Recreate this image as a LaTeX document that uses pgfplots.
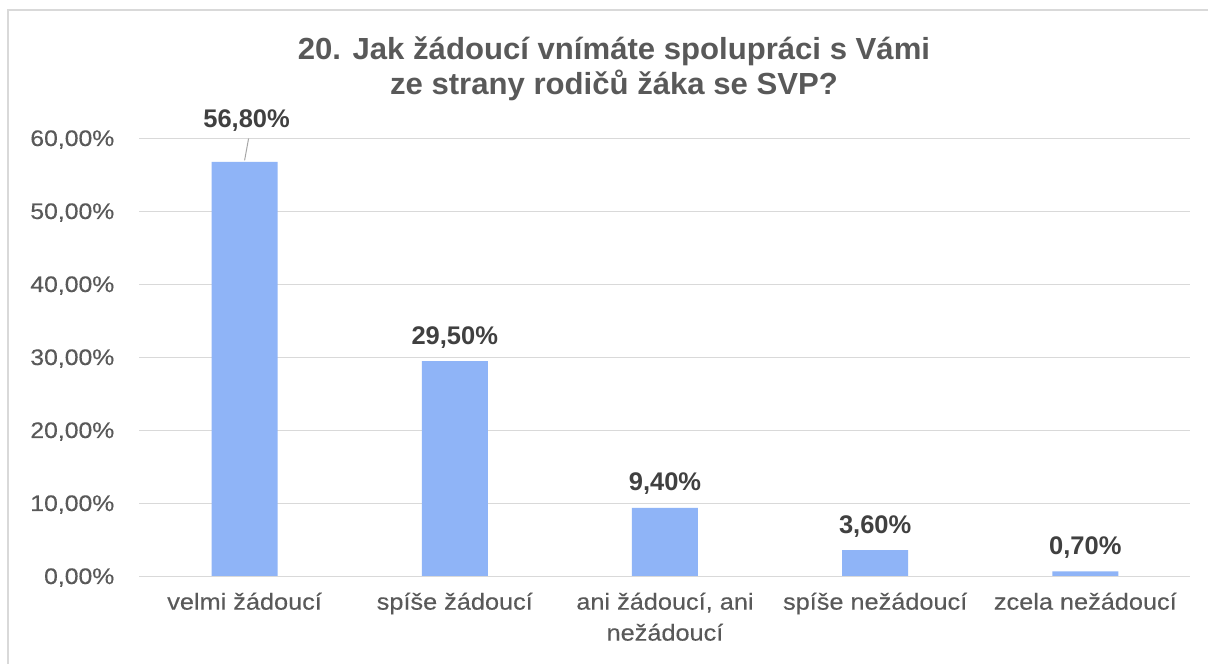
\documentclass[border=0pt]{standalone}
\usepackage{fontspec}
\setmainfont{Liberation Sans}
\newfontfamily\tickfont{Liberation Sans}[FakeStretch=1.1,FakeBold=0.3]
\newfontfamily\titlefont{Liberation Sans}[FakeStretch=1.02]
\newfontfamily\labfont{Liberation Sans}
\usepackage{pgfplots}
\pgfplotsset{compat=1.18}
\definecolor{barblue}{HTML}{8FB4F7}
\definecolor{txtgray}{HTML}{595959}
\definecolor{lblgray}{HTML}{404040}
\definecolor{gridgray}{HTML}{D9D9D9}
\definecolor{leadgray}{HTML}{A6A6A6}
\begin{document}
\begin{tikzpicture}
\useasboundingbox (0,0) rectangle (1208pt,664pt);
\fill[white] (0,0) rectangle (1208pt,664pt);
\draw[gridgray, line width=1.3pt] (8pt,-10pt) -- (8pt,654pt) -- (1220pt,654pt);
\node[anchor=base, align=center, font={\titlefont\bfseries\fontsize{30.5}{35}\selectfont}, text=txtgray, inner sep=0pt] at (614pt,569pt) {20. Jak žádoucí vnímáte spolupráci s Vámi\\ze strany rodičů žáka se SVP?};
\begin{axis}[
  at={(139.5pt,87.5pt)}, anchor=south west,
  scale only axis, width=1051pt, height=438pt,
  xmin=-0.5, xmax=4.5, ymin=0, ymax=60,
  clip=false,
  axis line style={draw=none},
  axis x line*=bottom,
  ytick={0,10,20,30,40,50,60},
  ymajorgrids, major grid style={gridgray, line width=1.3pt},
  major tick length=0pt,
  xtick={0,1,2,3,4},
  xticklabels={velmi žádoucí, spíše žádoucí, {ani žádoucí, ani\\nežádoucí}, spíše nežádoucí, zcela nežádoucí},
  xticklabel style={anchor=north, inner sep=0pt, yshift=-16pt, align=center, text=txtgray, font={\tickfont\fontsize{23}{31}\selectfont}},
  yticklabel={\pgfmathprintnumber[assume math mode=true,fixed,fixed zerofill,precision=2,use comma]{\tick}\%},
  yticklabel style={anchor=base east, inner sep=0pt, xshift=-25pt, yshift=-7.5pt, text=txtgray, font={\tickfont\fontsize{22.5}{25}\selectfont}},
]
\addplot[ybar, bar width=66pt, bar shift=0pt, fill=barblue, draw=none] coordinates {(0,56.8) (1,29.5) (2,9.4) (3,3.6) (4,0.7)};
\draw[gridgray, line width=1.3pt] (axis cs:-0.5,0) -- (axis cs:4.5,0);
\addplot[only marks, mark=none, point meta=explicit,
  nodes near coords={\pgfmathprintnumber[assume math mode=true,fixed,fixed zerofill,precision=2,use comma]{\pgfplotspointmeta}\%},
  every node near coord/.style={anchor=base, inner sep=0pt, yshift=17pt, text=lblgray, font={\labfont\bfseries\fontsize{25.5}{29}\selectfont}}]
  coordinates {(1,29.5) [29.5] (2,9.4) [9.4] (3,3.6) [3.6] (4,0.7) [0.7]};
\addplot[leadgray, line width=1pt] coordinates {(0,57.0) (0.019,60.0)};
\addplot[only marks, mark=none, point meta=explicit,
  nodes near coords={\pgfmathprintnumber[assume math mode=true,fixed,fixed zerofill,precision=2,use comma]{\pgfplotspointmeta}\%},
  every node near coord/.style={anchor=base, inner sep=0pt, yshift=0pt, text=lblgray, font={\labfont\bfseries\fontsize{25.5}{29}\selectfont}}]
  coordinates {(0.0095,61.55) [56.8]};
\end{axis}
\end{tikzpicture}
\end{document}
